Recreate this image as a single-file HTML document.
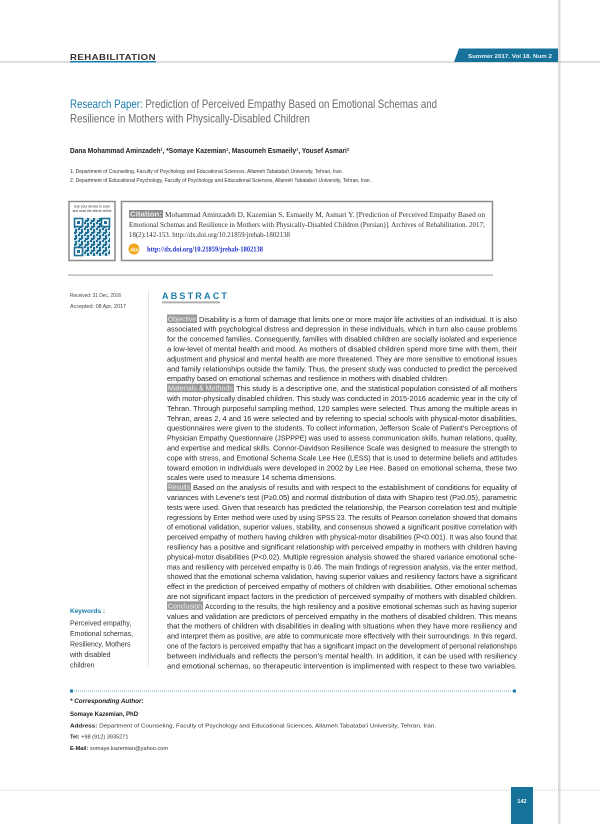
<!DOCTYPE html>
<html><head><meta charset="utf-8"><style>
html,body{margin:0;padding:0;background:#fff}
svg{display:block}
text{font-family:"Liberation Sans",sans-serif}
.b{font-size:7.6px;fill:#2a2a2a}
.s{font-family:"Liberation Serif",serif;font-size:7.4px;fill:#333}
</style></head><body>
<svg width="600" height="824" viewBox="0 0 600 824" xmlns="http://www.w3.org/2000/svg">
<defs>
<pattern id="qr" width="6" height="6" patternUnits="userSpaceOnUse">
<rect width="6" height="6" fill="#cfe3ec"/>
<rect x="0" y="0" width="2" height="2" fill="#1f6f96"/>
<rect x="3" y="1" width="2" height="3" fill="#1f6f96"/>
<rect x="1" y="4" width="3" height="2" fill="#1f6f96"/>
<rect x="4" y="4" width="1" height="1" fill="#1f6f96"/>
</pattern>
</defs>
<rect x="558" y="0" width="2.5" height="824" fill="#dcdcdc"/>
<rect x="0" y="61.5" width="600" height="1" fill="#bdbdbd"/>
<text x="70" y="60" style="font-size:8.5px;font-weight:bold;fill:#333;letter-spacing:0.4px" textLength="86" lengthAdjust="spacingAndGlyphs">REHABILITATION</text>
<rect x="70" y="61" width="86" height="1.5" fill="#1b7aa6"/>
<polygon points="459,48.5 558,48.5 558,62 454,62" fill="#17729a"/>
<text x="468" y="58" style="font-size:5px;font-weight:bold;fill:#e8f2f7" textLength="84" lengthAdjust="spacingAndGlyphs">Summer 2017. Vol 18. Num 2</text>
<text x="70" y="108" style="font-size:12px;fill:#6a6a6a" textLength="367" lengthAdjust="spacingAndGlyphs"><tspan fill="#1a7bab">Research Paper:</tspan> Prediction of Perceived Empathy Based on Emotional Schemas and</text>
<text x="70" y="122.5" style="font-size:12px;fill:#6a6a6a" textLength="240" lengthAdjust="spacingAndGlyphs">Resilience in Mothers with Physically-Disabled Children</text>
<text x="70" y="153" style="font-size:7.4px;font-weight:bold;fill:#222" textLength="279" lengthAdjust="spacingAndGlyphs">Dana Mohammad Aminzadeh¹, *Somaye Kazemian¹, Masoumeh Esmaeily¹, Yousef Asmari²</text>
<text x="70" y="173" style="font-size:5px;fill:#333" textLength="273" lengthAdjust="spacingAndGlyphs">1. Department of Counseling, Faculty of Psychology and Educational Sciences, Allameh Tabataba'i University, Tehran, Iran.</text>
<text x="70" y="182" style="font-size:5px;fill:#333" textLength="301" lengthAdjust="spacingAndGlyphs">2. Department of Educational Psychology, Faculty of Psychology and Educational Sciences, Allameh Tabataba'i University, Tehran, Iran.</text>
<rect x="69" y="201.5" width="46" height="59" fill="#fff" stroke="#8a8a8a" stroke-width="1.5"/>
<text x="92" y="207.5" text-anchor="middle" style="font-size:3.4px;fill:#333">Use your device to scan</text>
<text x="92" y="212" text-anchor="middle" style="font-size:3.4px;fill:#333">and read the article online</text>
<rect x="74" y="218" width="36" height="38" fill="url(#qr)"/>
<rect x="74.5" y="218.5" width="8" height="8" fill="#fff" stroke="#1f6f96" stroke-width="1.6"/><rect x="77" y="221" width="3" height="3" fill="#1f6f96"/>
<rect x="101.5" y="218.5" width="8" height="8" fill="#fff" stroke="#1f6f96" stroke-width="1.6"/><rect x="104" y="221" width="3" height="3" fill="#1f6f96"/>
<rect x="74.5" y="247.5" width="8" height="8" fill="#fff" stroke="#1f6f96" stroke-width="1.6"/><rect x="77" y="250" width="3" height="3" fill="#1f6f96"/>
<rect x="121.5" y="201.5" width="371" height="59" fill="#fff" stroke="#8a8a8a" stroke-width="1.5"/>
<rect x="129" y="210" width="34" height="8" fill="#8c8c8c"/>
<text x="130" y="216.5" style="font-size:7px;font-weight:bold;fill:#eee" textLength="32" lengthAdjust="spacingAndGlyphs">Citation:</text>
<text x="165" y="217" class="s" textLength="320" lengthAdjust="spacingAndGlyphs">Mohammad Aminzadeh D, Kazemian S, Esmaeily M, Asmari Y. [Prediction of Perceived Empathy Based on</text>
<text x="129" y="227" class="s" textLength="356" lengthAdjust="spacingAndGlyphs">Emotional Schemas and Resilience in Mothers with Physically-Disabled Children (Persian)]. Archives of Rehabilitation. 2017;</text>
<text x="129" y="237" class="s" textLength="161" lengthAdjust="spacingAndGlyphs">18(2):142-153. http://dx.doi.org/10.21859/jrehab-1802138</text>
<circle cx="134" cy="249" r="5.5" fill="#f2a51c"/>
<text x="130.5" y="251.5" style="font-size:5.5px;font-weight:bold;fill:#fff">doi</text>
<text x="147" y="251.5" style="font-family:'Liberation Serif',serif;font-size:7px;font-weight:bold;fill:#2233cc" textLength="116" lengthAdjust="spacingAndGlyphs">http://dx.doi.org/10.21859/jrehab-1802138</text>
<rect x="68" y="274.5" width="425" height="1.2" fill="#a8a8a8"/>
<text x="70" y="297" style="font-size:5px;fill:#444" textLength="51" lengthAdjust="spacingAndGlyphs">Received: 31 Dec, 2016</text>
<text x="70" y="308" style="font-size:5px;fill:#444" textLength="56" lengthAdjust="spacingAndGlyphs">Accepted: 08 Apr, 2017</text>
<line x1="148.5" y1="291" x2="148.5" y2="667" stroke="#bbb" stroke-width="0.8" stroke-dasharray="1,1"/>
<text x="70" y="613" style="font-size:6.5px;font-weight:bold;fill:#1a7bab">Keywords :</text>
<g style="font-size:7px;fill:#333">
<text x="70" y="625.5">Perceived empathy,</text>
<text x="70" y="636">Emotional schemas,</text>
<text x="70" y="646.5">Resiliency, Mothers</text>
<text x="70" y="657">with disabled</text>
<text x="70" y="667.5">children</text>
</g>
<text x="162" y="299" style="font-size:9px;font-weight:bold;fill:#1a7bab;letter-spacing:2.2px">ABSTRACT</text>
<rect x="162" y="301.5" width="58" height="1.8" fill="#aaa"/>
<rect x="167" y="314.5" width="30" height="8.5" fill="#9a9a9a"/>
<text x="168" y="321.5" style="font-size:7px;fill:#f4f4f4" textLength="28" lengthAdjust="spacingAndGlyphs">Objective</text>
<rect x="167" y="383.7" width="67" height="8.5" fill="#9a9a9a"/>
<text x="168" y="390.7" style="font-size:7px;fill:#f4f4f4" textLength="65" lengthAdjust="spacingAndGlyphs">Materials &amp; Methods</text>
<rect x="167" y="482.6" width="24" height="8.5" fill="#9a9a9a"/>
<text x="168" y="489.6" style="font-size:7px;fill:#f4f4f4" textLength="22" lengthAdjust="spacingAndGlyphs">Results</text>
<rect x="167" y="601.3" width="36" height="8.5" fill="#9a9a9a"/>
<text x="168" y="608.3" style="font-size:7px;fill:#f4f4f4" textLength="34" lengthAdjust="spacingAndGlyphs">Conclusion</text>
<g class="b">
<text x="199" y="321.8" textLength="318" lengthAdjust="spacingAndGlyphs">Disability is a form of damage that limits one or more major life activities of an individual. It is also</text>
<text x="167" y="331.7" textLength="350" lengthAdjust="spacingAndGlyphs">associated with psychological distress and depression in these individuals, which in turn also cause problems</text>
<text x="167" y="341.6" textLength="350" lengthAdjust="spacingAndGlyphs">for the concerned families. Consequently, families with disabled children are socially isolated and experience</text>
<text x="167" y="351.5" textLength="350" lengthAdjust="spacingAndGlyphs">a low-level of mental health and mood. As mothers of disabled children spend more time with them, their</text>
<text x="167" y="361.4" textLength="350" lengthAdjust="spacingAndGlyphs">adjustment and physical and mental health are more threatened. They are more sensitive to emotional issues</text>
<text x="167" y="371.3" textLength="350" lengthAdjust="spacingAndGlyphs">and family relationships outside the family. Thus, the present study was conducted to predict the perceived</text>
<text x="167" y="381.2" textLength="282" lengthAdjust="spacingAndGlyphs">empathy based on emotional schemas and resilience in mothers with disabled children.</text>
<text x="236" y="391.1" textLength="281" lengthAdjust="spacingAndGlyphs">This study is a descriptive one, and the statistical population consisted of all mothers</text>
<text x="167" y="401.0" textLength="350" lengthAdjust="spacingAndGlyphs">with motor-physically disabled children. This study was conducted in 2015-2016 academic year in the city of</text>
<text x="167" y="410.9" textLength="350" lengthAdjust="spacingAndGlyphs">Tehran. Through purposeful sampling method, 120 samples were selected. Thus among the multiple areas in</text>
<text x="167" y="420.8" textLength="350" lengthAdjust="spacingAndGlyphs">Tehran, areas 2, 4 and 16 were selected and by referring to special schools with physical-motor disabilities,</text>
<text x="167" y="430.7" textLength="350" lengthAdjust="spacingAndGlyphs">questionnaires were given to the students. To collect information, Jefferson Scale of Patient's Perceptions of</text>
<text x="167" y="440.6" textLength="350" lengthAdjust="spacingAndGlyphs">Physician Empathy Questionnaire (JSPPPE) was used to assess communication skills, human relations, quality,</text>
<text x="167" y="450.5" textLength="350" lengthAdjust="spacingAndGlyphs">and expertise and medical skills. Connor-Davidson Resilience Scale was designed to measure the strength to</text>
<text x="167" y="460.4" textLength="350" lengthAdjust="spacingAndGlyphs">cope with stress, and Emotional Schema Scale Lee Hee (LESS) that is used to determine beliefs and attitudes</text>
<text x="167" y="470.3" textLength="350" lengthAdjust="spacingAndGlyphs">toward emotion in individuals were developed in 2002 by Lee Hee. Based on emotional schema, these two</text>
<text x="167" y="480.2" textLength="169" lengthAdjust="spacingAndGlyphs">scales were used to measure 14 schema dimensions.</text>
<text x="193" y="490.1" textLength="324" lengthAdjust="spacingAndGlyphs">Based on the analysis of results and with respect to the establishment of conditions for equality of</text>
<text x="167" y="500.0" textLength="350" lengthAdjust="spacingAndGlyphs">variances with Levene's test (P≥0.05) and normal distribution of data with Shapiro test (P≥0.05), parametric</text>
<text x="167" y="509.9" textLength="350" lengthAdjust="spacingAndGlyphs">tests were used. Given that research has predicted the relationship, the Pearson correlation test and multiple</text>
<text x="167" y="519.8" textLength="350" lengthAdjust="spacingAndGlyphs">regressions by Enter method were used by using SPSS 23. The results of Pearson correlation showed that domains</text>
<text x="167" y="529.7" textLength="350" lengthAdjust="spacingAndGlyphs">of emotional validation, superior values, stability, and consensus showed a significant positive correlation with</text>
<text x="167" y="539.6" textLength="350" lengthAdjust="spacingAndGlyphs">perceived empathy of mothers having children with physical-motor disabilities (P&lt;0.001). It was also found that</text>
<text x="167" y="549.5" textLength="350" lengthAdjust="spacingAndGlyphs">resiliency has a positive and significant relationship with perceived empathy in mothers with children having</text>
<text x="167" y="559.4" textLength="350" lengthAdjust="spacingAndGlyphs">physical-motor disabilities (P&lt;0.02). Multiple regression analysis showed the shared variance emotional sche-</text>
<text x="167" y="569.3" textLength="350" lengthAdjust="spacingAndGlyphs">mas and resiliency with perceived empathy is 0.46. The main findings of regression analysis, via the enter method,</text>
<text x="167" y="579.2" textLength="350" lengthAdjust="spacingAndGlyphs">showed that the emotional schema validation, having superior values and resiliency factors have a significant</text>
<text x="167" y="589.1" textLength="350" lengthAdjust="spacingAndGlyphs">effect in the prediction of perceived empathy of mothers of children with disabilities. Other emotional schemas</text>
<text x="167" y="599.0" textLength="350" lengthAdjust="spacingAndGlyphs">are not significant impact factors in the prediction of perceived sympathy of mothers with disabled children.</text>
<text x="205" y="608.9" textLength="312" lengthAdjust="spacingAndGlyphs">According to the results, the high resiliency and a positive emotional schemas such as having superior</text>
<text x="167" y="618.8" textLength="350" lengthAdjust="spacingAndGlyphs">values and validation are predictors of perceived empathy in the mothers of disabled children. This means</text>
<text x="167" y="628.7" textLength="350" lengthAdjust="spacingAndGlyphs">that the mothers of children with disabilities in dealing with situations when they have more resiliency and</text>
<text x="167" y="638.6" textLength="350" lengthAdjust="spacingAndGlyphs">and interpret them as positive, are able to communicate more effectively with their surroundings. In this regard,</text>
<text x="167" y="648.5" textLength="350" lengthAdjust="spacingAndGlyphs">one of the factors is perceived empathy that has a significant impact on the development of personal relationships</text>
<text x="167" y="658.4" textLength="350" lengthAdjust="spacingAndGlyphs">between individuals and reflects the person's mental health. In addition, it can be used with resiliency</text>
<text x="167" y="668.3" textLength="350" lengthAdjust="spacingAndGlyphs">and emotional schemas, so therapeutic intervention is implimented with respect to these two variables.</text>
</g>
<line x1="72" y1="691" x2="514" y2="691" stroke="#3a8fb8" stroke-width="0.8" stroke-dasharray="1,1"/>
<rect x="70" y="689.5" width="3" height="3" fill="#1a7bab"/>
<rect x="513" y="689.5" width="3" height="3" fill="#1a7bab"/>
<text x="70" y="703" style="font-size:6.3px;font-weight:bold;font-style:italic;fill:#222">* Corresponding Author:</text>
<text x="70" y="716" style="font-size:6px;font-weight:bold;fill:#222">Somaye Kazemian, PhD</text>
<text x="70" y="727.5" style="font-size:5.6px;fill:#333" textLength="366" lengthAdjust="spacingAndGlyphs"><tspan font-weight="bold" fill="#222">Address:</tspan> Department of Counseling, Faculty of Psychology and Educational Sciences, Allameh Tabataba'i University, Tehran, Iran.</text>
<text x="70" y="738.5" style="font-size:5.6px;fill:#333"><tspan font-weight="bold" fill="#222">Tel:</tspan> +98 (912) 3935271</text>
<text x="70" y="750" style="font-size:5.6px;fill:#333"><tspan font-weight="bold" fill="#222">E-Mail:</tspan> somaye.kazemian@yahoo.com</text>
<line x1="0" y1="790" x2="600" y2="790" stroke="#bbb" stroke-width="0.8" stroke-dasharray="1,1"/>
<rect x="511" y="787" width="22" height="37" fill="#17729a"/>
<text x="522" y="803" text-anchor="middle" style="font-size:5.5px;font-weight:bold;fill:#fff">142</text>
</svg>
</body></html>
